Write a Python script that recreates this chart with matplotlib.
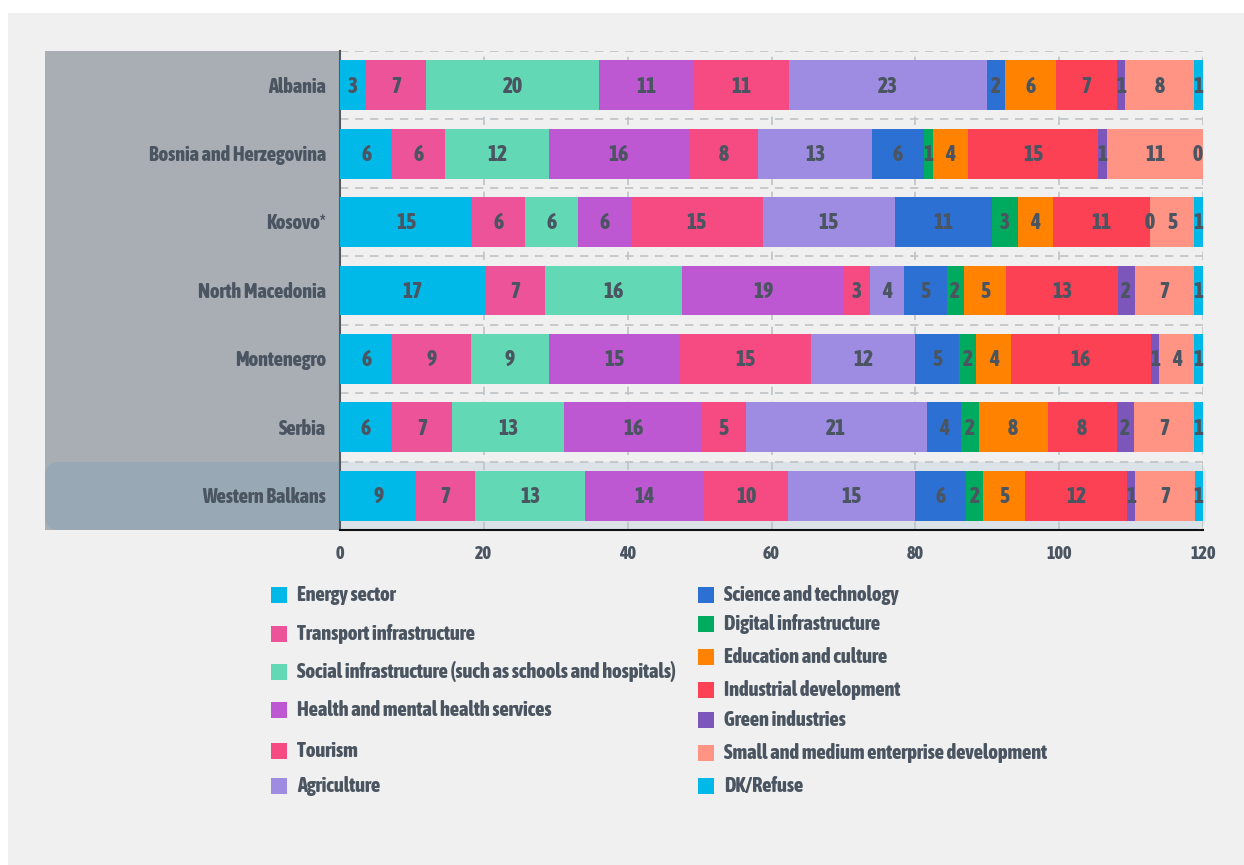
import numpy as np
import matplotlib
matplotlib.use("Agg")
from matplotlib import pyplot as plt
from matplotlib.patches import Rectangle, FancyBboxPatch

plt.rcParams['font.family'] = ['Asap Condensed', 'DejaVu Sans']
plt.rcParams['font.weight'] = 800

# data
countries = ['Albania', 'Bosnia and Herzegovina', 'Kosovo*', 'North Macedonia',
             'Montenegro', 'Serbia', 'Western Balkans']
sectors = ['Energy sector', 'Transport infrastructure',
           'Social infrastructure (such as schools and hospitals)',
           'Health and mental health services', 'Tourism', 'Agriculture',
           'Science and technology', 'Digital infrastructure', 'Education and culture',
           'Industrial development', 'Green industries',
           'Small and medium enterprise development', 'DK/Refuse']
energy = [3, 6, 15, 17, 6, 6, 9]
transport = [7, 6, 6, 7, 9, 7, 7]
social = [20, 12, 6, 16, 9, 13, 13]
health = [11, 16, 6, 19, 15, 16, 14]
tourism = [11, 8, 15, 3, 15, 5, 10]
agriculture = [23, 13, 15, 4, 12, 21, 15]
science = [2, 6, 11, 5, 5, 4, 6]
digital = [None, 1, 3, 2, 2, 2, 2]
education = [6, 4, 4, 5, 4, 8, 5]
industrial = [7, 15, 11, 13, 16, 8, 12]
green = [1, 1, 0, 2, 1, 2, 1]
sme = [8, 11, 5, 7, 4, 7, 7]
dk = [1, 0, 1, 1, 1, 1, 1]
series = [energy, transport, social, health, tourism, agriculture, science,
          digital, education, industrial, green, sme, dk]
colors = ['#00b9e9', '#ec5398', '#62d8b5', '#bd58d2', '#f54a82', '#9d8ce1',
          '#2c70d4', '#00aa5f', '#ff8300', '#fc4155', '#7d56bc', '#ff9384', '#00b9e9']
x_max = 120
text_col = '#4a5561'
bold = 800

W, H = 1244, 865
fig = plt.figure(figsize=(W / 100, H / 100), dpi=100)
fig.patch.set_facecolor('white')

def px(x, y):
    # pixel coords (from top-left) -> inches for dpi_scale_trans
    return x / 100, (H - y) / 100

# background panels
fig.patches.append(Rectangle(px(8, H), (W - 8) / 100, (H - 13) / 100,
                             transform=fig.dpi_scale_trans, fc='#eff0ef', ec='none', zorder=-10))
fig.patches.append(Rectangle(px(45, 530), (339 - 45) / 100, (530 - 51) / 100,
                             transform=fig.dpi_scale_trans, fc='#a8aeb4', ec='none', zorder=-9))

light = FancyBboxPatch(px(300, 530), (1206 - 300) / 100, (530 - 462) / 100,
                       boxstyle='round,pad=0,rounding_size=0.15',
                       transform=fig.dpi_scale_trans, fc='#dbe3e9', ec='none', zorder=-8)
clip_r = Rectangle(px(339, H), 10, 10, transform=fig.dpi_scale_trans)
light.set_clip_path(clip_r)
fig.patches.append(light)

dark = FancyBboxPatch(px(45, 530), (420 - 45) / 100, (530 - 462) / 100,
                      boxstyle='round,pad=0,rounding_size=0.15',
                      transform=fig.dpi_scale_trans, fc='#98a9b5', ec='none', zorder=-7)
clip_l = Rectangle(px(0, H), 3.39, 10, transform=fig.dpi_scale_trans)
dark.set_clip_path(clip_l)
fig.patches.append(dark)

ax = fig.add_axes([340 / W, 1 - 530 / H, (1203 - 340) / W, (530 - 51) / H])
ax.set_facecolor('none')

y = np.arange(len(countries))
vals = np.array([[0 if v is None else v for v in s] for s in series], dtype=float)
totals = vals.sum(axis=0)
left = np.zeros(len(countries))
for s, raw, c in zip(vals, series, colors):
    w = s / totals * x_max
    ax.barh(y, w, left=left, height=0.73, color=c, zorder=3)
    for i in range(len(countries)):
        if raw[i] is None:
            continue
        cx = min(left[i] + w[i] / 2, x_max - 0.7)
        ax.text(cx, y[i] + 0.02, str(raw[i]), ha='center', va='center',
                fontsize=15.5, fontweight=bold, color=text_col, zorder=4)
    left += w

ax.set_xlim(0, x_max)
ax.set_ylim(len(countries) - 0.5, -0.5)

# dashed grid
for yy in np.arange(-0.5, len(countries) - 0.5, 1):
    ax.axhline(yy, color='#bfc3c7', lw=1.2, ls=(0, (5, 4)), zorder=1)
for xx in range(20, x_max + 1, 20):
    ax.axvline(xx, color='#bfc3c7', lw=1.2, ls=(0, (5, 4)), zorder=1)

ax.set_xticks(range(0, x_max + 1, 20))
ax.tick_params(axis='x', length=0, pad=11, labelsize=13, labelcolor=text_col)
ax.set_yticks([])
for lab in ax.get_xticklabels():
    lab.set_fontweight(bold)
ax.spines['top'].set_visible(False)
ax.spines['right'].set_visible(False)
ax.spines['left'].set_color('#555a60')
ax.spines['left'].set_linewidth(1.5)
ax.spines['bottom'].set_color('#111111')
ax.spines['bottom'].set_linewidth(1.5)

# category labels on the grey panel
for i, name in enumerate(countries):
    ax.annotate(name, xy=(0, y[i] + 0.02), xycoords='data', xytext=(-10, 0),
                textcoords='offset points', ha='right', va='center',
                fontsize=14.5, fontweight=bold, color=text_col)

# legend, two columns
left_rows = [595, 634, 672, 710, 751, 786]
right_rows = [595, 624, 657, 690, 720, 753, 786]
entries = [(271, 297, r) for r in left_rows] + [(698, 724, r) for r in right_rows]
for (sx, tx, ry), name, c in zip(entries, sectors, colors):
    fig.patches.append(Rectangle(px(sx, ry + 8), 0.16, 0.16, transform=fig.dpi_scale_trans,
                                 fc=c, ec='none'))
    fig.text(tx / W, 1 - ry / H, name, ha='left', va='center', fontsize=14.6,
             fontweight=bold, color=text_col)

fig.savefig('out.png', dpi=100)
